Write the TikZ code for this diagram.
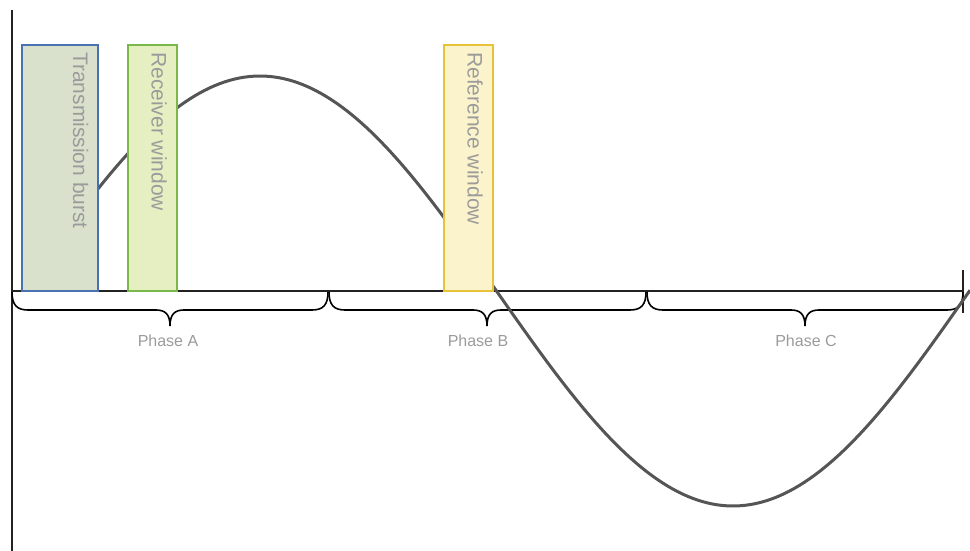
\documentclass[tikz,border=0pt]{standalone}
\usepackage{fontspec}
\setmainfont{Liberation Sans}
\definecolor{burstfill}{HTML}{D9E1CC}
\definecolor{burstline}{HTML}{4A72B0}
\definecolor{recvfill}{HTML}{E5EFC2}
\definecolor{recvline}{HTML}{7AB84A}
\definecolor{reffill}{HTML}{FBF3CB}
\definecolor{refline}{HTML}{E8C33A}
\definecolor{labelgray}{HTML}{9B9B9B}
\definecolor{wavegray}{HTML}{555555}
\definecolor{axisblack}{HTML}{222222}
\newcommand{\phbrace}[3]{%
  \draw[bracestyle] (#1,292) .. controls (#1,305) and ({#1+5},310) .. ({#1+16},310)
    -- ({#2-14},310) .. controls ({#2-5},310) and (#2,314) .. (#2,326)
    .. controls (#2,314) and ({#2+5},310) .. ({#2+14},310)
    -- ({#3-16},310) .. controls ({#3-5},310) and (#3,305) .. (#3,292);}
\begin{document}
\begin{tikzpicture}[x=1pt,y=-1pt,
  winbox/.style={draw, line width=2pt, inner sep=0pt, outer sep=0pt, minimum height=246pt},
  boxtext/.style={rotate=-90, anchor=north west, inner sep=0pt, text=labelgray, font=\fontsize{21}{21}\selectfont},
  phaselabel/.style={text=labelgray, inner sep=0pt, font=\fontsize{16}{16}\selectfont},
  axisline/.style={draw=axisblack, line width=2pt},
  bracestyle/.style={draw=black, line width=1.6pt},
  wave/.style={draw=wavegray, line width=3pt}]
\useasboundingbox (0,0) rectangle (970,551);
% axes
\coordinate (ytop) at (12,10);
\coordinate (ybot) at (12,551);
\coordinate (origin) at (12,291);
\coordinate (xend) at (963,291);
\coordinate (ticktop) at (963,270);
\coordinate (tickbot) at (963,313);
\draw[axisline] (ytop) -- (ybot);
\draw[axisline] (origin) -- (xend);
\draw[axisline] (ticktop) -- (tickbot);
% braces
\phbrace{12}{170}{328}
\phbrace{329}{487}{646}
\phbrace{647}{805}{963}
\node[phaselabel] (phaseA) at (168,341) {Phase A};
\node[phaselabel] (phaseB) at (478,341) {Phase B};
\node[phaselabel] (phaseC) at (806,341) {Phase C};
% wave
\draw[wave] plot[domain=98:970, samples=180] (\x, {291-215*cos((\x-260)*0.38055)});
% windows
\node[winbox, draw=burstline, fill=burstfill, minimum width=76pt] (burst) at (60,168) {};
\node[winbox, draw=recvline, fill=recvfill, minimum width=49pt] (recv) at (152.5,168) {};
\node[winbox, draw=refline, fill=reffill, minimum width=49pt] (ref) at (468.5,168) {};
\node[boxtext] (burstlabel) at ([xshift=-9.5pt, yshift=-7pt]burst.north east) {Transmission burst};
\node[boxtext] (recvlabel) at ([xshift=-10pt, yshift=-7pt]recv.north east) {Receiver window};
\node[boxtext] (reflabel) at ([xshift=-10pt, yshift=-7pt]ref.north east) {Reference window};
\end{tikzpicture}
\end{document}
